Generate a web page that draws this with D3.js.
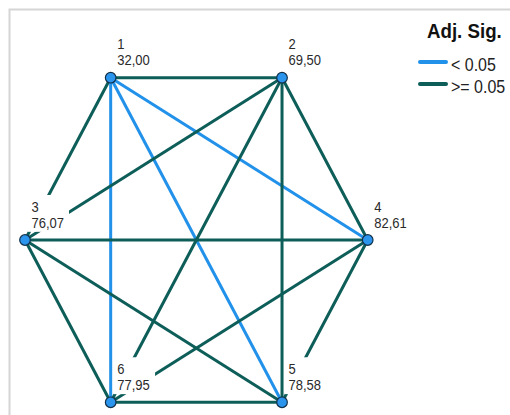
<!DOCTYPE html>
<html>
<head>
<meta charset="utf-8">
<script src="https://cdn.jsdelivr.net/npm/d3@7"></script>
<style>
  html, body { margin: 0; padding: 0; background: #fff; }
  svg { display: block; }
  text { font-family: "Liberation Sans", Arial, sans-serif; }
</style>
</head>
<body>
<svg id="chart" width="510" height="415"></svg>
<script>
// Pairwise comparisons: each node is a group with its mean rank
const nodeIds = ["1", "2", "3", "4", "5", "6"];
const meanRanks = [32.00, 69.50, 76.07, 82.61, 78.58, 77.95];
// place of each node round the hexagon, in degrees
const nodeAngles = [120, 60, 180, 0, -60, -120];

// every pair of groups and its adjusted significance class
const edgeFrom = ["1", "1", "1", "1", "1", "2", "2", "2", "2", "3", "3", "3", "4", "4", "5"];
const edgeTo   = ["2", "3", "4", "5", "6", "3", "4", "5", "6", "4", "5", "6", "5", "6", "6"];
const edgeSig  = [">= 0.05", ">= 0.05", "< 0.05", "< 0.05", "< 0.05",
                  ">= 0.05", ">= 0.05", ">= 0.05", ">= 0.05",
                  ">= 0.05", ">= 0.05", ">= 0.05",
                  ">= 0.05", ">= 0.05",
                  ">= 0.05"];

const legendTitle = "Adj. Sig.";
const legendLabels = ["< 0.05", ">= 0.05"];

const svg = d3.select("#chart");
const W = 510, H = 415;

const x = d3.scaleLinear().domain([-1, 1]).range([25, 367.7]);
const y = d3.scaleLinear().domain([-1, 1]).range([427.4, 52.6]);
const color = d3.scaleOrdinal().domain(legendLabels).range(["#2191ea", "#0d5d59"]);
const fmt = d3.formatLocale({ decimal: ",", thousands: ".", grouping: [3], currency: ["", ""] }).format(".2f");
const textScaleY = 1.1;

const nodes = nodeIds.map((id, i) => {
  const a = nodeAngles[i] * Math.PI / 180;
  return { id, rank: meanRanks[i], px: x(Math.cos(a)), py: y(Math.sin(a)) };
});
const byId = new Map(nodes.map(n => [n.id, n]));
const edges = edgeFrom.map((f, i) => ({ source: byId.get(f), target: byId.get(edgeTo[i]), sig: edgeSig[i] }));

// frame
svg.append("rect").attr("x", 0).attr("y", 0).attr("width", W).attr("height", H).attr("fill", "#fff");
svg.append("path")
  .attr("d", `M9.5,${H} V9.5 H${W}`)
  .attr("fill", "none").attr("stroke", "#d5d5d5").attr("stroke-width", 2);

// edges
svg.append("g").selectAll("line").data(edges).join("line")
  .attr("x1", d => d.source.px).attr("y1", d => d.source.py)
  .attr("x2", d => d.target.px).attr("y2", d => d.target.py)
  .attr("stroke", d => color(d.sig))
  .attr("stroke-width", 3);

// label backgrounds sit above the edges
const boxLayer = svg.append("g");

// nodes
svg.append("g").selectAll("circle").data(nodes).join("circle")
  .attr("cx", d => d.px).attr("cy", d => d.py).attr("r", 5.3)
  .attr("fill", "#2b95ee").attr("stroke", "#12304a").attr("stroke-width", 1.2);

// node labels: group id above its mean rank
const labels = svg.append("g").selectAll("g").data(nodes).join("g")
  .attr("transform", d => `translate(${d.px + 6.5},${d.py - 12.3}) scale(1,${textScaleY})`);
labels.append("text").attr("y", -14.7).attr("font-size", 13).attr("fill", "#2a2a2a").text(d => d.id);
labels.append("text").attr("y", 0).attr("font-size", 13).attr("fill", "#2a2a2a").text(d => fmt(d.rank));

const svgRect = svg.node().getBoundingClientRect();
labels.each(function () {
  const r = this.getBoundingClientRect();
  boxLayer.append("rect")
    .attr("x", r.left - svgRect.left - 4)
    .attr("y", r.top - svgRect.top - 4)
    .attr("width", r.width + 9)
    .attr("height", r.height + 5)
    .attr("fill", "#fff");
});

// legend
const legend = svg.append("g");
legend.append("text")
  .attr("transform", `translate(427,37.7) scale(1,${textScaleY})`)
  .attr("font-size", 18.7).attr("font-weight", "bold").attr("fill", "#111")
  .text(legendTitle);
const items = legend.selectAll("g.item").data(legendLabels).join("g")
  .attr("class", "item")
  .attr("transform", (d, i) => `translate(0,${62 + i * 22})`);
items.append("line")
  .attr("x1", 420).attr("x2", 446).attr("y1", 0).attr("y2", 0)
  .attr("stroke", d => color(d)).attr("stroke-width", 4).attr("stroke-linecap", "round");
items.append("text")
  .attr("transform", `translate(451,8.7) scale(1,${textScaleY})`)
  .attr("font-size", 16).attr("fill", "#222")
  .text(d => d);
</script>
</body>
</html>
